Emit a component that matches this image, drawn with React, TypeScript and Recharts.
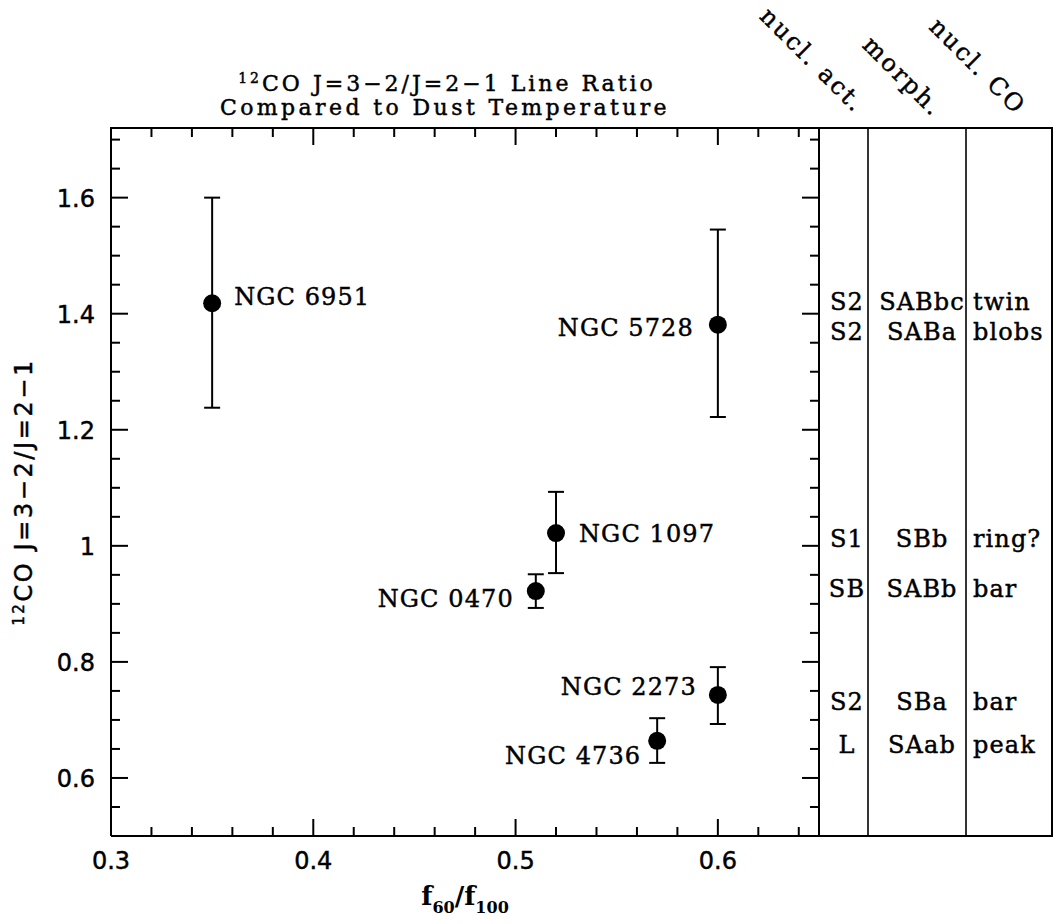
import React from 'react';
import { ComposedChart, Scatter, XAxis, YAxis, ErrorBar, Customized } from 'recharts';

// ---------------- data ----------------
const galaxyNames = ['NGC 6951', 'NGC 5728', 'NGC 1097', 'NGC 0470', 'NGC 2273', 'NGC 4736'];
const dustRatio = [0.35, 0.6, 0.52, 0.51, 0.6, 0.57]; // f60/f100
const lineRatio = [1.418, 1.381, 1.022, 0.922, 0.743, 0.664];
const lineRatioLower = [1.238, 1.222, 0.953, 0.893, 0.693, 0.626];
const lineRatioUpper = [1.6, 1.545, 1.093, 0.951, 0.791, 0.703];

const tableRowRatio = [1.422, 1.371, 1.014, 0.928, 0.733, 0.659];
const nuclearActivity = ['S2', 'S2', 'S1', 'SB', 'S2', 'L'];
const morphology = ['SABbc', 'SABa', 'SBb', 'SABb', 'SBa', 'SAab'];
const nuclearCO = ['twin', 'blobs', 'ring?', 'bar', 'bar', 'peak'];
const tableHeaders = ['nucl. act.', 'morph.', 'nucl. CO'];

const xTicks = [0.3, 0.32, 0.34, 0.36, 0.38, 0.4, 0.42, 0.44, 0.46, 0.48, 0.5, 0.52, 0.54, 0.56, 0.58, 0.6, 0.62, 0.64];
const xLabeledTicks = [0.3, 0.4, 0.5, 0.6];
const yTicks = [0.5, 0.55, 0.6, 0.65, 0.7, 0.75, 0.8, 0.85, 0.9, 0.95, 1, 1.05, 1.1, 1.15, 1.2, 1.25, 1.3, 1.35, 1.4, 1.45, 1.5, 1.55, 1.6, 1.65, 1.7];
const yLabeledTicks = [0.6, 0.8, 1, 1.2, 1.4, 1.6];
const xDomain = [0.3, 0.65];
const yDomain = [0.5, 1.72];

// ---------------- layout / style ----------------
const W = 1058;
const H = 924;
const SERIF = '"DejaVu Serif", serif';
const SANS = '"DejaVu Sans", sans-serif';
const INK = { fill: '#000', stroke: '#000', strokeWidth: 0.45 };
const PLOT_LEFT = 111;
const PLOT_RIGHT = 819;
const PLOT_TOP = 128;
const PLOT_BOTTOM = 836;
const SIDE_AXIS = 1; // thickness given to the top / right axes
const MARGIN = { top: PLOT_TOP - SIDE_AXIS, right: W - PLOT_RIGHT - SIDE_AXIS, bottom: 0, left: 0 };
const TICK_OFF = 2; // tickSize (1) + tickMargin (1)
const TABLE_RIGHT = 1052;
const COL_DIVIDERS = [868, 966];
const COL1_CENTER = 847;
const COL2_CENTER = 922;
const COL3_LEFT = 973;
const MAJOR = 17;
const MINOR = 9;

const labelLayout: Record<string, { side: 'left' | 'right'; gap: number; dy: number }> = {
  'NGC 6951': { side: 'right', gap: 22, dy: 2 },
  'NGC 5728': { side: 'left', gap: 24, dy: 11 },
  'NGC 1097': { side: 'right', gap: 23, dy: 9 },
  'NGC 0470': { side: 'left', gap: 22, dy: 16 },
  'NGC 2273': { side: 'left', gap: 21, dy: 0 },
  'NGC 4736': { side: 'left', gap: 16, dy: 23 },
};

const points = galaxyNames.map((name, i) => ({
  name,
  x: dustRatio[i],
  y: lineRatio[i],
  err: [lineRatio[i] - lineRatioLower[i], lineRatioUpper[i] - lineRatio[i]],
}));

const tableRows = tableRowRatio.map((y, i) => ({
  x: xDomain[0],
  y,
  act: nuclearActivity[i],
  morph: morphology[i],
  co: nuclearCO[i],
}));

const isIn = (v: number, list: number[]) => list.some((t) => Math.abs(t - v) < 1e-9);

const BottomTick = (props: any) => {
  const { x, payload } = props;
  const y = props.y - TICK_OFF;
  const major = isIn(payload.value, xLabeledTicks);
  return (
    <g>
      <line x1={x} x2={x} y1={y} y2={y - (major ? MAJOR : MINOR)} stroke="#000" strokeWidth={2} />
      {major && (
        <text x={x} y={y + 33} textAnchor="middle" fontFamily={SANS} fontSize={24} {...INK}>
          {String(payload.value)}
        </text>
      )}
    </g>
  );
};

const TopTick = (props: any) => {
  const { x, payload } = props;
  const y = props.y + TICK_OFF;
  const major = isIn(payload.value, xLabeledTicks);
  return <line x1={x} x2={x} y1={y} y2={y + (major ? MAJOR : MINOR)} stroke="#000" strokeWidth={2} />;
};

const LeftTick = (props: any) => {
  const { y, payload } = props;
  const x = props.x + TICK_OFF;
  const major = isIn(payload.value, yLabeledTicks);
  return (
    <g>
      <line x1={x} x2={x + (major ? MAJOR : MINOR)} y1={y} y2={y} stroke="#000" strokeWidth={2} />
      {major && (
        <text x={x - 16} y={y + 9} textAnchor="end" fontFamily={SANS} fontSize={24} {...INK}>
          {String(payload.value)}
        </text>
      )}
    </g>
  );
};

const RightTick = (props: any) => {
  const { y, payload } = props;
  const x = props.x - TICK_OFF;
  const major = isIn(payload.value, yLabeledTicks);
  return <line x1={x} x2={x - (major ? MAJOR : MINOR)} y1={y} y2={y} stroke="#000" strokeWidth={2} />;
};

const GalaxyPoint = (props: any) => {
  const { cx, cy, payload } = props;
  const lay = labelLayout[payload.name];
  const right = lay.side === 'right';
  return (
    <g>
      <circle cx={cx} cy={cy} r={9} fill="#000" />
      <text
        x={right ? cx + lay.gap : cx - lay.gap}
        y={cy + lay.dy}
        textAnchor={right ? 'start' : 'end'}
        fontFamily={SERIF}
        fontSize={24}
        letterSpacing={1.1}
        {...INK}
      >
        {payload.name}
      </text>
    </g>
  );
};

const TableRow = (props: any) => {
  const { cy, payload } = props;
  const common = { fontFamily: SERIF, fontSize: 24, letterSpacing: 1.1, ...INK };
  return (
    <g>
      <text x={COL1_CENTER} y={cy + 9} textAnchor="middle" {...common}>{payload.act}</text>
      <text x={COL2_CENTER} y={cy + 9} textAnchor="middle" {...common}>{payload.morph}</text>
      <text x={COL3_LEFT} y={cy + 9} textAnchor="start" {...common}>{payload.co}</text>
    </g>
  );
};

const headerAnchors = [
  [855, 114],
  [933, 118],
  [1016, 116],
];

const Overlay = () => (
  <g>
    {/* main plot frame (top and right edges) */}
    <line x1={PLOT_LEFT - 1} x2={PLOT_RIGHT} y1={PLOT_TOP} y2={PLOT_TOP} stroke="#000" strokeWidth={2} />
    <line x1={PLOT_RIGHT} x2={PLOT_RIGHT} y1={PLOT_TOP} y2={PLOT_BOTTOM} stroke="#000" strokeWidth={2} />
    {/* table frame */}
    <line x1={PLOT_RIGHT} x2={TABLE_RIGHT} y1={PLOT_TOP} y2={PLOT_TOP} stroke="#000" strokeWidth={2} />
    <line x1={PLOT_RIGHT} x2={TABLE_RIGHT} y1={PLOT_BOTTOM} y2={PLOT_BOTTOM} stroke="#000" strokeWidth={2} />
    <line x1={TABLE_RIGHT} x2={TABLE_RIGHT} y1={PLOT_TOP - 1} y2={PLOT_BOTTOM + 1} stroke="#000" strokeWidth={2} />
    {COL_DIVIDERS.map((cx) => (
      <line key={cx} x1={cx} x2={cx} y1={PLOT_TOP} y2={PLOT_BOTTOM} stroke="#000" strokeWidth={1.6} />
    ))}
    {/* table headers */}
    {tableHeaders.map((h, i) => (
      <text
        key={h}
        x={headerAnchors[i][0]}
        y={headerAnchors[i][1]}
        transform={`rotate(45 ${headerAnchors[i][0]} ${headerAnchors[i][1]})`}
        textAnchor="end"
        fontFamily={SERIF}
        fontSize={24}
        letterSpacing={2.4}
        {...INK}
      >
        {h}
      </text>
    ))}
    {/* title */}
    <text x={447} y={91} textAnchor="middle" fontFamily={SERIF} fontSize={22} letterSpacing={3} {...INK}>
      <tspan fontSize={14} dy={-8}>12</tspan>
      <tspan dy={8}>CO J=3−2/J=2−1 Line Ratio</tspan>
    </text>
    <text x={445} y={115} textAnchor="middle" fontFamily={SERIF} fontSize={22} letterSpacing={3.4} {...INK}>
      Compared to Dust Temperature
    </text>
    {/* y axis title */}
    <text
      x={32}
      y={492}
      transform="rotate(-90 32 492)"
      textAnchor="middle"
      fontFamily={SANS}
      fontSize={24}
      letterSpacing={2.6}
      {...INK}
    >
      <tspan fontSize={15} dy={-8}>12</tspan>
      <tspan dy={8}>CO J=3−2/J=2−1</tspan>
    </text>
    {/* x axis title */}
    <text x={465} y={905} textAnchor="middle" fontFamily={SERIF} fontSize={26} fontWeight="bold" fill="#000">
      <tspan>f</tspan>
      <tspan fontSize={16} dy={8}>60</tspan>
      <tspan dy={-8}>/f</tspan>
      <tspan fontSize={16} dy={8}>100</tspan>
    </text>
  </g>
);

export default function App() {
  return (
    <div style={{ position: 'absolute', left: 0, top: 0, background: '#fff' }}>
      <ComposedChart width={W} height={H} margin={MARGIN}>
        <XAxis
          xAxisId="bottom"
          type="number"
          dataKey="x"
          domain={xDomain}
          allowDataOverflow
          ticks={xTicks}
          interval={0}
          height={H - PLOT_BOTTOM}
          tickSize={1}
          tickMargin={1}
          tickLine={false}
          axisLine={{ stroke: '#000', strokeWidth: 2 }}
          tick={<BottomTick />}
        />
        <XAxis
          xAxisId="top"
          orientation="top"
          type="number"
          dataKey="x"
          domain={xDomain}
          ticks={xTicks}
          interval={0}
          height={SIDE_AXIS}
          tickSize={1}
          tickMargin={1}
          tickLine={false}
          axisLine={false}
          tick={<TopTick />}
        />
        <YAxis
          yAxisId="left"
          type="number"
          dataKey="y"
          domain={yDomain}
          allowDataOverflow
          ticks={yTicks}
          interval={0}
          width={PLOT_LEFT}
          tickSize={1}
          tickMargin={1}
          tickLine={false}
          axisLine={{ stroke: '#000', strokeWidth: 2 }}
          tick={<LeftTick />}
        />
        <YAxis
          yAxisId="right"
          orientation="right"
          type="number"
          dataKey="y"
          domain={yDomain}
          ticks={yTicks}
          interval={0}
          width={SIDE_AXIS}
          tickSize={1}
          tickMargin={1}
          tickLine={false}
          axisLine={false}
          tick={<RightTick />}
        />
        <Scatter
          xAxisId="bottom"
          yAxisId="left"
          data={points}
          shape={<GalaxyPoint />}
          isAnimationActive={false}
        >
          <ErrorBar dataKey="err" direction="y" width={8} stroke="#000" strokeWidth={2} isAnimationActive={false} />
        </Scatter>
        <Scatter
          xAxisId="top"
          yAxisId="right"
          data={tableRows}
          shape={<TableRow />}
          isAnimationActive={false}
        />
        <Customized component={Overlay} />
      </ComposedChart>
    </div>
  );
}
